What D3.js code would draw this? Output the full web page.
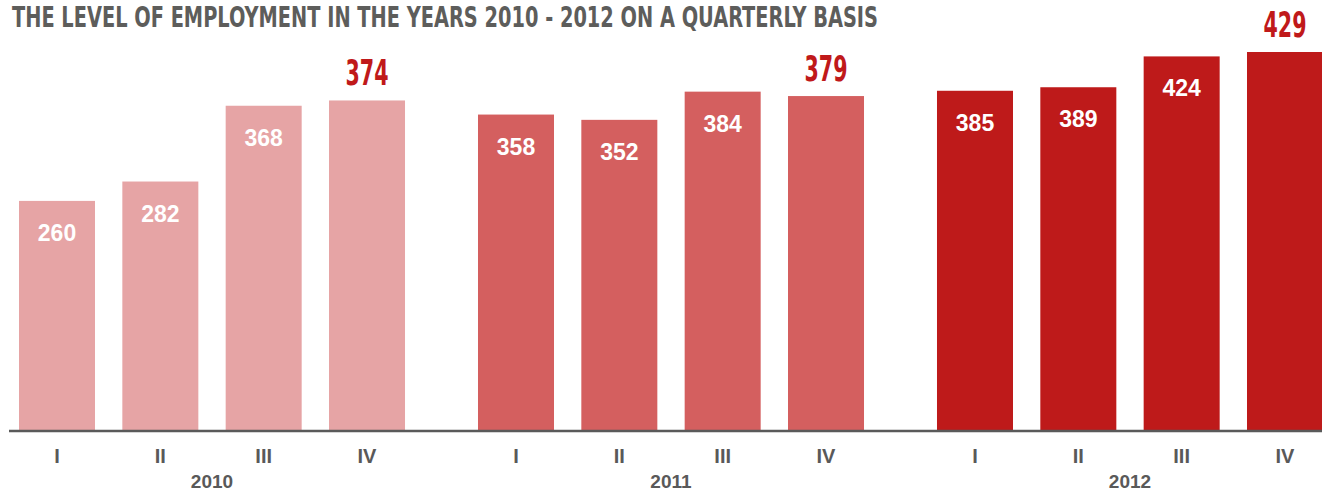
<!DOCTYPE html>
<html>
<head>
<meta charset="utf-8">
<script src="https://cdn.jsdelivr.net/npm/d3@7"></script>
<style>
  html, body { margin: 0; padding: 0; background: #fff; }
  svg { display: block; }
</style>
</head>
<body>
<svg id="chart" width="1322" height="491"></svg>
<script>
// Employment level per quarter, 2010–2012
const years = ["2010", "2011", "2012"];
const quarters = ["I", "II", "III", "IV"];
const values2010 = [260, 282, 368, 374];
const values2011 = [358, 352, 384, 379];
const values2012 = [385, 389, 424, 429];
const yearColors = ["#e6a4a5", "#d45f5f", "#be1a1a"];
const titleText = "THE LEVEL OF EMPLOYMENT IN THE YEARS 2010 - 2012 ON A QUARTERLY BASIS";

const seriesByYear = [values2010, values2011, values2012];
const rows = years.map((year, i) => ({
  year,
  color: yearColors[i],
  values: quarters.map((q, j) => ({ q, v: seriesByYear[i][j] }))
}));

const svg = d3.select("#chart");
const W = 1322, H = 491;
const baseY = 430;

const x0 = d3.scaleBand().domain(years).range([19, 1323]).paddingInner(0.159).paddingOuter(0);
const x1 = d3.scaleBand().domain(quarters).range([0, x0.bandwidth()]).paddingInner(0.2645).paddingOuter(0);
const y = d3.scaleLinear().domain([0, d3.max(values2012)]).range([baseY, 52]);

const condensed = "'Liberation Sans Narrow', 'Arial Narrow', 'DejaVu Sans Condensed', sans-serif";
const sans = "'Liberation Sans', Arial, Helvetica, sans-serif";

// Title
svg.append("text")
  .attr("x", 12).attr("y", 27)
  .attr("textLength", 866).attr("lengthAdjust", "spacingAndGlyphs")
  .style("font-family", condensed).style("font-weight", "bold")
  .style("font-size", "29px").style("fill", "#5d5d5b")
  .text(titleText);

const groups = svg.selectAll("g.year").data(rows).join("g")
  .attr("class", "year")
  .attr("transform", d => `translate(${x0(d.year)},0)`);

// Bars
groups.selectAll("rect").data(d => d.values.map(v => ({ ...v, color: d.color }))).join("rect")
  .attr("x", d => x1(d.q))
  .attr("y", d => y(d.v))
  .attr("width", x1.bandwidth())
  .attr("height", d => baseY - y(d.v))
  .attr("fill", d => d.color);

// Values inside the first three bars of each year
groups.selectAll("text.inner").data(d => d.values.slice(0, 3)).join("text")
  .attr("class", "inner")
  .attr("x", d => x1(d.q) + x1.bandwidth() / 2)
  .attr("y", d => y(d.v) + 40)
  .attr("text-anchor", "middle")
  .style("font-family", sans).style("font-weight", "bold")
  .style("font-size", "23px").style("fill", "#ffffff")
  .text(d => d.v);

// Year-end value above the fourth bar
groups.selectAll("text.outer").data(d => d.values.slice(3)).join("text")
  .attr("class", "outer")
  .attr("x", d => x1(d.q) + x1.bandwidth() / 2)
  .attr("y", d => y(d.v) - 15)
  .attr("text-anchor", "middle")
  .attr("textLength", 43).attr("lengthAdjust", "spacingAndGlyphs")
  .style("font-family", condensed).style("font-weight", "bold")
  .style("font-size", "35px").style("fill", "#c0191a")
  .text(d => d.v);

// Baseline axis
const axis = svg.append("g").attr("transform", `translate(0,${baseY + 1})`);
axis.append("line")
  .attr("x1", 9).attr("x2", W)
  .attr("stroke", "#5a5a5a").attr("stroke-width", 2.5);

// Quarter tick labels
groups.selectAll("text.q").data(d => d.values).join("text")
  .attr("class", "q")
  .attr("x", d => x1(d.q) + x1.bandwidth() / 2)
  .attr("y", 463)
  .attr("text-anchor", "middle")
  .style("font-family", sans).style("font-weight", "bold")
  .style("font-size", "20px").style("fill", "#595959")
  .text(d => d.q);

// Year labels
groups.append("text")
  .attr("x", x0.bandwidth() / 2)
  .attr("y", 488)
  .attr("text-anchor", "middle")
  .style("font-family", sans).style("font-weight", "bold")
  .style("font-size", "19px").style("fill", "#595959")
  .text(d => d.year);
</script>
</body>
</html>
